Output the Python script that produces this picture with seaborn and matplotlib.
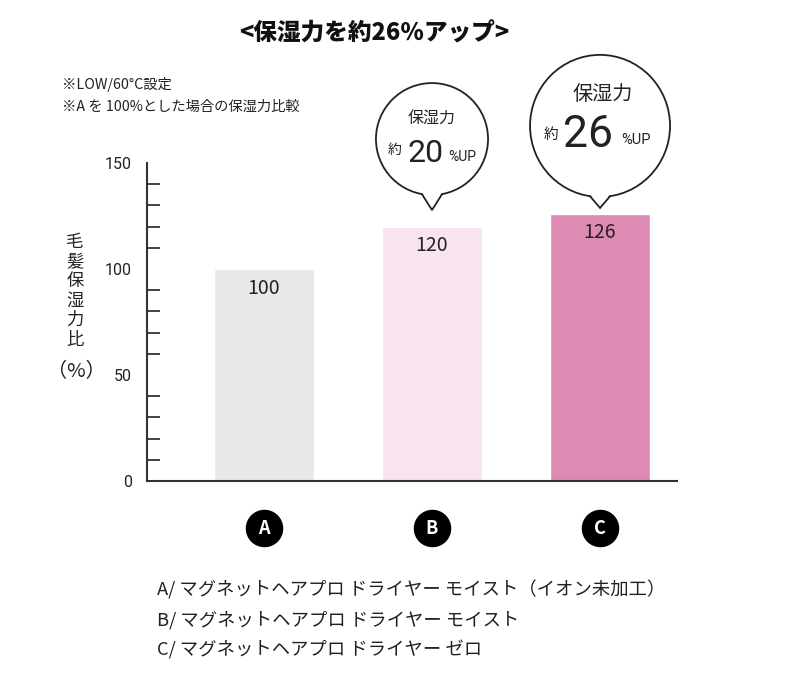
import matplotlib
matplotlib.use("Agg")
import matplotlib.pyplot as plt
import seaborn as sns
from matplotlib.patches import Ellipse, Polygon
from matplotlib.ticker import MultipleLocator

# データ
products = ["A", "B", "C"]
values = [100, 120, 126]
bar_colors = ["#e8e8e8", "#f7e4ee", "#de8ab2"]
product_names = [
    "A/ マグネットヘアプロ ドライヤー モイスト（イオン未加工）",
    "B/ マグネットヘアプロ ドライヤー モイスト",
    "C/ マグネットヘアプロ ドライヤー ゼロ",
]
up_labels = {1: "20", 2: "26"}

sns.set_style("white")
plt.rcParams["font.family"] = ["Noto Sans CJK JP", "DejaVu Sans"]

fig = plt.figure(figsize=(8, 6.74), dpi=100)
ax = fig.add_axes([147 / 800, 1 - 481 / 674, 530 / 800, 318 / 674])

sns.barplot(x=products, y=values, hue=products, palette=bar_colors,
            width=0.59, legend=False, saturation=1, ax=ax)

ax.set_xlim(-0.696, 2.458)
ax.set_ylim(0, 150)
ax.set_yticks([0, 50, 100, 150])
ax.yaxis.set_minor_locator(MultipleLocator(10))
ax.tick_params(axis="y", which="major", direction="in", length=14.4, width=1.5,
               color="#333333", pad=11, labelsize=11.5, labelcolor="#222222")
ax.tick_params(axis="y", which="minor", direction="in", length=9.4, width=1.3,
               color="#333333", left=True)
for lab in ax.get_yticklabels():
    lab.set_family("Roboto")
ax.tick_params(axis="x", bottom=False, labelbottom=False)
ax.set_xlabel("")
ax.set_ylabel("")
sns.despine(ax=ax)
for side in ["left", "bottom"]:
    ax.spines[side].set_color("#333333")
    ax.spines[side].set_linewidth(1.5)

# 棒の数値
for i, v in enumerate(values):
    ax.text(i, v - 9, str(v), ha="center", va="center", fontsize=14, color="#222222")

# A B C の丸ラベル
ax.scatter(range(len(products)), [-22.2] * len(products), s=676, color="black",
           clip_on=False, zorder=5)
for i, p in enumerate(products):
    ax.text(i, -22.2, p, ha="center", va="center", color="white", fontsize=13,
            fontweight="bold", clip_on=False, zorder=6)


# 吹き出し
def bubble(ax, x, v, w, h, rise, tip_gap, s_title, s_num, s_small, num, offs):
    cy = v + rise
    ax.add_patch(Ellipse((x, cy), w, h, facecolor="white", edgecolor="#222222",
                         linewidth=1.3, clip_on=False, zorder=3))
    dx = 0.06
    yarc = cy - (h / 2) * (1 - (2 * dx / w) ** 2) ** 0.5
    tip = (x, v + tip_gap)
    ax.add_patch(Polygon([(x - dx * 1.05, yarc + 1.2), (x + dx * 1.05, yarc + 1.2), tip],
                         closed=True, facecolor="white", edgecolor="none",
                         clip_on=False, zorder=4))
    ax.plot([x - dx, tip[0], x + dx], [yarc, tip[1], yarc], color="#222222",
            linewidth=1.3, clip_on=False, zorder=5, solid_joinstyle="miter")
    items = [("保湿力", s_title, None), ("約", s_small, None), (num, s_num, "Roboto"),
             ("%UP", s_small, "Roboto")]
    for (txt, size, fam), (ox, oy) in zip(items, offs):
        kw = {"family": fam} if fam else {}
        ax.annotate(txt, (x, cy), xytext=(ox * 0.72, oy * 0.72),
                    textcoords="offset points", ha="center", va="center",
                    fontsize=size, color="#222222", annotation_clip=False,
                    zorder=6, **kw)


bubble(ax, 1, values[1], 0.667, 52.8, 41.3, 7.8, 11.5, 23, 10, up_labels[1],
       [(0, 21), (-37, -11), (-6, -14), (30, -18)])
bubble(ax, 2, values[2], 0.833, 67, 41.5, 2.8, 14.5, 32, 10.5, up_labels[2],
       [(3, 31), (-49, -9), (-12, -9), (36, -14)])

# 軸ラベル
fig.text(75 / 800, 1 - 291 / 674, "\n".join("毛髪保湿力比"), ha="center", va="center",
         fontsize=12.5, linespacing=1.1, color="#222222")
fig.text(76 / 800, 1 - 372 / 674, "（%）", ha="center", va="center",
         fontsize=14.5, color="#222222")

# タイトルと注記
fig.text(374 / 800, 1 - 33 / 674, "<保湿力を約26％アップ>", ha="center", va="center",
         fontsize=17, fontweight="heavy", color="#111111")
fig.text(62 / 800, 1 - 85 / 674, "※LOW/60°C設定", ha="left", va="center",
         fontsize=10.3, color="#222222")
fig.text(62 / 800, 1 - 107 / 674, "※A を 100%とした場合の保湿力比較", ha="left",
         va="center", fontsize=10.3, color="#222222")

for k, name in enumerate(product_names):
    fig.text(157 / 800, 1 - (590 + 30 * k) / 674, name, ha="left", va="center",
             fontsize=13.2, color="#222222")

fig.savefig("out.png", dpi=100, facecolor="white")
